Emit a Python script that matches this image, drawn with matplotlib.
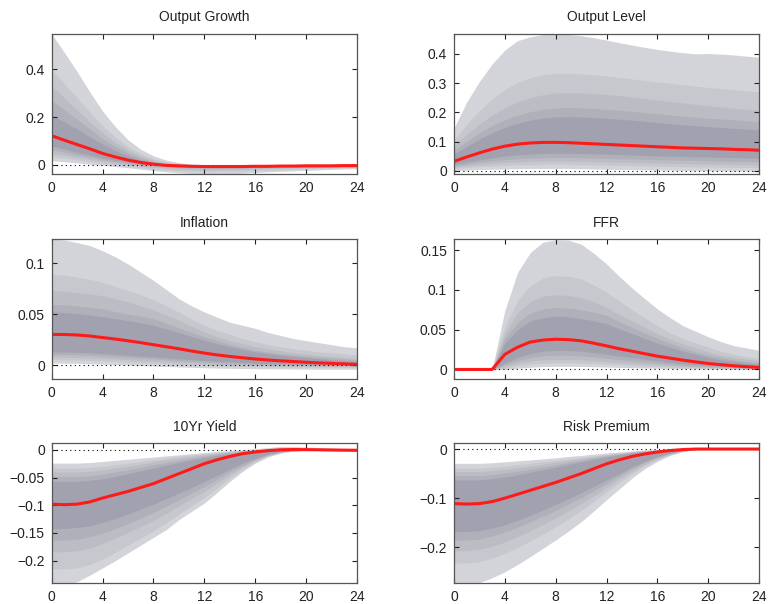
import matplotlib
matplotlib.use("Agg")
import matplotlib.pyplot as plt
from matplotlib.ticker import FuncFormatter

plt.rcParams["font.family"] = ["Liberation Sans", "DejaVu Sans"]
plt.rcParams["font.size"] = 10

horizon = list(range(25))

# Output Growth
og_med = [0.122, 0.103, 0.085, 0.067, 0.048, 0.033, 0.020, 0.010, 0.003, -0.002, -0.004, -0.006, -0.007, -0.007, -0.007, -0.007, -0.006, -0.006, -0.005, -0.005, -0.004, -0.004, -0.004, -0.003, -0.003]
og_up = [
    [0.548, 0.47, 0.39, 0.305, 0.225, 0.16, 0.105, 0.065, 0.038, 0.02, 0.009, 0.003, 0.0, -0.001, -0.001, 0.0, 0.0, 0.001, 0.001, 0.002, 0.002, 0.002, 0.002, 0.002, 0.002],
    [0.40, 0.34, 0.28, 0.22, 0.163, 0.115, 0.076, 0.046, 0.025, 0.012, 0.004, 0.0, -0.002, -0.003, -0.003, -0.002, -0.002, -0.001, -0.001, 0.0, 0.0, 0.0, 0.0, 0.0, 0.0],
    [0.33, 0.28, 0.23, 0.18, 0.134, 0.094, 0.062, 0.036, 0.018, 0.007, 0.0, -0.003, -0.004, -0.004, -0.004, -0.004, -0.003, -0.003, -0.002, -0.002, -0.002, -0.001, -0.001, -0.001, -0.001],
    [0.27, 0.23, 0.19, 0.15, 0.11, 0.077, 0.05, 0.028, 0.013, 0.004, -0.002, -0.004, -0.005, -0.005, -0.005, -0.005, -0.004, -0.004, -0.003, -0.003, -0.003, -0.002, -0.002, -0.002, -0.002],
    [0.21, 0.18, 0.15, 0.118, 0.087, 0.06, 0.038, 0.021, 0.009, 0.001, -0.003, -0.005, -0.006, -0.006, -0.006, -0.006, -0.005, -0.005, -0.004, -0.004, -0.003, -0.003, -0.003, -0.003, -0.002],
]
og_lo = [
    [0.018, 0.013, 0.008, 0.003, -0.002, -0.007, -0.012, -0.018, -0.024, -0.029, -0.033, -0.036, -0.038, -0.038, -0.037, -0.035, -0.032, -0.029, -0.027, -0.025, -0.023, -0.021, -0.019, -0.017, -0.016],
    [0.035, 0.028, 0.021, 0.014, 0.007, 0.001, -0.005, -0.011, -0.016, -0.021, -0.024, -0.026, -0.027, -0.027, -0.026, -0.025, -0.023, -0.021, -0.019, -0.018, -0.016, -0.015, -0.014, -0.013, -0.012],
    [0.05, 0.041, 0.032, 0.023, 0.015, 0.007, 0.001, -0.005, -0.010, -0.014, -0.017, -0.019, -0.020, -0.020, -0.019, -0.018, -0.017, -0.015, -0.014, -0.013, -0.012, -0.011, -0.010, -0.010, -0.009],
    [0.065, 0.053, 0.042, 0.032, 0.022, 0.013, 0.006, 0.0, -0.005, -0.009, -0.012, -0.013, -0.014, -0.014, -0.014, -0.013, -0.012, -0.011, -0.010, -0.009, -0.009, -0.008, -0.007, -0.007, -0.007],
    [0.08, 0.066, 0.053, 0.041, 0.029, 0.019, 0.011, 0.004, -0.001, -0.005, -0.008, -0.009, -0.010, -0.010, -0.010, -0.009, -0.009, -0.008, -0.007, -0.007, -0.006, -0.006, -0.005, -0.005, -0.005],
]

# Output Level
ol_med = [0.032, 0.047, 0.061, 0.074, 0.084, 0.091, 0.095, 0.097, 0.097, 0.096, 0.094, 0.092, 0.09, 0.088, 0.086, 0.084, 0.082, 0.08, 0.078, 0.077, 0.076, 0.075, 0.073, 0.072, 0.07]
ol_up = [
    [0.145, 0.235, 0.305, 0.365, 0.413, 0.445, 0.458, 0.466, 0.468, 0.466, 0.462, 0.455, 0.447, 0.438, 0.43, 0.422, 0.415, 0.409, 0.404, 0.4, 0.401, 0.399, 0.396, 0.392, 0.388],
    [0.105, 0.16, 0.205, 0.245, 0.278, 0.302, 0.318, 0.328, 0.333, 0.333, 0.331, 0.328, 0.324, 0.319, 0.314, 0.309, 0.304, 0.299, 0.294, 0.289, 0.285, 0.281, 0.277, 0.273, 0.27],
    [0.085, 0.125, 0.16, 0.19, 0.215, 0.235, 0.25, 0.26, 0.266, 0.267, 0.266, 0.264, 0.261, 0.257, 0.252, 0.247, 0.242, 0.237, 0.232, 0.227, 0.222, 0.218, 0.214, 0.21, 0.206],
    [0.07, 0.1, 0.13, 0.155, 0.175, 0.19, 0.202, 0.21, 0.215, 0.216, 0.215, 0.213, 0.21, 0.207, 0.203, 0.199, 0.195, 0.191, 0.187, 0.183, 0.18, 0.177, 0.174, 0.171, 0.168],
    [0.058, 0.083, 0.108, 0.13, 0.148, 0.162, 0.173, 0.18, 0.184, 0.185, 0.184, 0.182, 0.179, 0.176, 0.173, 0.169, 0.165, 0.161, 0.157, 0.154, 0.151, 0.148, 0.145, 0.142, 0.14],
]
ol_lo = [
    [0.0, 0.002, 0.004, 0.005, 0.006, 0.007, 0.008, 0.008, 0.008, 0.008, 0.007, 0.006, 0.005, 0.004, 0.004, 0.003, 0.002, 0.002, 0.001, 0.001, 0.0, 0.0, -0.001, -0.001, -0.002],
    [0.007, 0.011, 0.014, 0.016, 0.018, 0.02, 0.021, 0.022, 0.022, 0.022, 0.021, 0.02, 0.019, 0.018, 0.017, 0.016, 0.016, 0.015, 0.014, 0.013, 0.013, 0.012, 0.011, 0.011, 0.01],
    [0.012, 0.017, 0.021, 0.025, 0.028, 0.03, 0.032, 0.033, 0.033, 0.033, 0.032, 0.031, 0.03, 0.029, 0.028, 0.027, 0.026, 0.025, 0.025, 0.024, 0.023, 0.022, 0.022, 0.021, 0.02],
    [0.017, 0.023, 0.029, 0.034, 0.038, 0.041, 0.043, 0.044, 0.045, 0.045, 0.044, 0.043, 0.042, 0.041, 0.04, 0.039, 0.038, 0.037, 0.036, 0.035, 0.034, 0.033, 0.032, 0.032, 0.031],
    [0.022, 0.03, 0.037, 0.044, 0.05, 0.054, 0.057, 0.059, 0.06, 0.06, 0.059, 0.058, 0.057, 0.055, 0.054, 0.052, 0.051, 0.05, 0.049, 0.048, 0.047, 0.046, 0.045, 0.044, 0.043],
]

# Inflation
inf_med = [0.030, 0.030, 0.0295, 0.0285, 0.027, 0.0255, 0.0238, 0.022, 0.020, 0.018, 0.016, 0.0138, 0.0118, 0.010, 0.0085, 0.0072, 0.006, 0.005, 0.0042, 0.0035, 0.0028, 0.0022, 0.0017, 0.0012, 0.0008]
inf_up = [
    [0.1235, 0.1225, 0.12, 0.117, 0.112, 0.106, 0.099, 0.091, 0.083, 0.074, 0.065, 0.058, 0.052, 0.047, 0.042, 0.039, 0.036, 0.032, 0.029, 0.026, 0.024, 0.022, 0.020, 0.018, 0.017],
    [0.0887, 0.088, 0.086, 0.084, 0.081, 0.077, 0.073, 0.069, 0.064, 0.058, 0.052, 0.045, 0.039, 0.034, 0.030, 0.026, 0.023, 0.020, 0.018, 0.016, 0.0146, 0.013, 0.012, 0.011, 0.0097],
    [0.073, 0.0725, 0.071, 0.0695, 0.068, 0.065, 0.062, 0.058, 0.054, 0.049, 0.044, 0.038, 0.0325, 0.028, 0.024, 0.021, 0.018, 0.016, 0.014, 0.012, 0.0107, 0.0095, 0.0085, 0.0075, 0.0065],
    [0.0595, 0.059, 0.058, 0.0565, 0.055, 0.0525, 0.05, 0.048, 0.0455, 0.041, 0.0365, 0.032, 0.0276, 0.024, 0.0205, 0.0175, 0.0146, 0.0128, 0.011, 0.0098, 0.0088, 0.0078, 0.0068, 0.0059, 0.005],
    [0.052, 0.0515, 0.0505, 0.049, 0.0475, 0.0455, 0.0435, 0.0415, 0.039, 0.0355, 0.0318, 0.028, 0.0244, 0.021, 0.018, 0.0155, 0.013, 0.0113, 0.0098, 0.0085, 0.0073, 0.0062, 0.0052, 0.0044, 0.0036],
]
inf_lo = [
    [0.002, 0.0019, 0.0017, 0.0014, 0.001, 0.0006, 0.0001, -0.0004, -0.0009, -0.0014, -0.0018, -0.0022, -0.0026, -0.0029, -0.0031, -0.0033, -0.0035, -0.0036, -0.0037, -0.0038, -0.0039, -0.004, -0.004, -0.0041, -0.0041],
    [0.0055, 0.0053, 0.005, 0.0046, 0.0041, 0.0036, 0.003, 0.0024, 0.0018, 0.0012, 0.0007, 0.0002, -0.0002, -0.0006, -0.0009, -0.0012, -0.0014, -0.0016, -0.0018, -0.0019, -0.002, -0.0021, -0.0022, -0.0022, -0.0023],
    [0.008, 0.0078, 0.0075, 0.0071, 0.0066, 0.006, 0.0053, 0.0046, 0.0039, 0.0032, 0.0025, 0.0019, 0.0013, 0.0008, 0.0004, 0.0, -0.0003, -0.0006, -0.0008, -0.001, -0.0011, -0.0012, -0.0013, -0.0014, -0.0014],
    [0.0105, 0.0103, 0.01, 0.0096, 0.009, 0.0083, 0.0076, 0.0068, 0.006, 0.0052, 0.0044, 0.0037, 0.003, 0.0024, 0.0018, 0.0013, 0.0009, 0.0006, 0.0003, 0.0001, -0.0001, -0.0003, -0.0004, -0.0005, -0.0006],
    [0.013, 0.0128, 0.0125, 0.012, 0.0113, 0.0105, 0.0097, 0.0088, 0.008, 0.0071, 0.0062, 0.0053, 0.0045, 0.0038, 0.0032, 0.0026, 0.0021, 0.0017, 0.0013, 0.001, 0.0007, 0.0004, 0.0002, 0.0, -0.0001],
]

# FFR
ffr_med = [0, 0, 0, 0, 0.019, 0.028, 0.0345, 0.037, 0.038, 0.0375, 0.036, 0.033, 0.0296, 0.026, 0.023, 0.0198, 0.0167, 0.0142, 0.0117, 0.0095, 0.0075, 0.006, 0.0046, 0.0035, 0.0025]
ffr_up = [
    [0, 0, 0, 0, 0.074, 0.122, 0.147, 0.16, 0.163, 0.1625, 0.1575, 0.146, 0.1325, 0.117, 0.1025, 0.089, 0.076, 0.065, 0.055, 0.048, 0.041, 0.035, 0.030, 0.027, 0.024],
    [0, 0, 0, 0, 0.053, 0.087, 0.105, 0.115, 0.118, 0.117, 0.114, 0.106, 0.097, 0.086, 0.075, 0.065, 0.055, 0.046, 0.039, 0.033, 0.028, 0.023, 0.019, 0.016, 0.014],
    [0, 0, 0, 0, 0.045, 0.071, 0.085, 0.092, 0.094, 0.093, 0.09, 0.085, 0.078, 0.069, 0.061, 0.053, 0.045, 0.038, 0.032, 0.027, 0.022, 0.018, 0.015, 0.013, 0.011],
    [0, 0, 0, 0, 0.039, 0.059, 0.071, 0.076, 0.078, 0.077, 0.075, 0.072, 0.068, 0.06, 0.053, 0.046, 0.039, 0.033, 0.027, 0.022, 0.018, 0.015, 0.012, 0.01, 0.0083],
    [0, 0, 0, 0, 0.033, 0.05, 0.061, 0.065, 0.067, 0.066, 0.064, 0.061, 0.0575, 0.051, 0.045, 0.039, 0.033, 0.028, 0.023, 0.019, 0.015, 0.012, 0.01, 0.008, 0.0067],
]
ffr_lo = [
    [0, 0, 0, 0, 0.0, 0.0015, 0.0028, 0.0037, 0.004, 0.004, 0.0038, 0.0034, 0.003, 0.0026, 0.0022, 0.0018, 0.0015, 0.0012, 0.001, 0.0008, 0.0006, 0.0004, 0.0003, 0.0002, 0.0001],
    [0, 0, 0, 0, 0.002, 0.0045, 0.0065, 0.0078, 0.0083, 0.0083, 0.008, 0.0073, 0.0065, 0.0057, 0.0049, 0.0042, 0.0035, 0.0029, 0.0024, 0.0019, 0.0015, 0.0012, 0.0009, 0.0007, 0.0005],
    [0, 0, 0, 0, 0.004, 0.0075, 0.0105, 0.012, 0.0125, 0.0125, 0.012, 0.011, 0.0098, 0.0087, 0.0076, 0.0065, 0.0055, 0.0046, 0.0038, 0.0031, 0.0025, 0.002, 0.0016, 0.0012, 0.0009],
    [0, 0, 0, 0, 0.006, 0.011, 0.015, 0.017, 0.018, 0.018, 0.017, 0.016, 0.014, 0.0125, 0.011, 0.0095, 0.008, 0.0066, 0.0054, 0.0044, 0.0036, 0.0029, 0.0023, 0.0018, 0.0014],
    [0, 0, 0, 0, 0.008, 0.015, 0.02, 0.023, 0.024, 0.024, 0.023, 0.021, 0.019, 0.017, 0.015, 0.013, 0.011, 0.009, 0.0075, 0.006, 0.005, 0.004, 0.003, 0.0025, 0.002],
]

# 10Yr Yield
ty_med = [-0.098, -0.099, -0.098, -0.094, -0.087, -0.081, -0.075, -0.068, -0.061, -0.052, -0.043, -0.034, -0.025, -0.018, -0.012, -0.007, -0.004, -0.0015, 0.0, 0.0005, 0.0003, 0.0, -0.0003, -0.0006, -0.0008]
ty_up = [
    [-0.024, -0.024, -0.024, -0.023, -0.021, -0.019, -0.017, -0.015, -0.013, -0.011, -0.009, -0.007, -0.005, -0.003, -0.0015, 0.0, 0.002, 0.004, 0.006, 0.006, 0.005, 0.004, 0.003, 0.002, 0.002],
    [-0.033, -0.033, -0.033, -0.032, -0.03, -0.027, -0.024, -0.021, -0.018, -0.015, -0.012, -0.009, -0.007, -0.005, -0.003, -0.001, 0.001, 0.002, 0.004, 0.004, 0.003, 0.002, 0.002, 0.001, 0.001],
    [-0.04, -0.04, -0.04, -0.039, -0.036, -0.033, -0.03, -0.026, -0.022, -0.018, -0.015, -0.012, -0.009, -0.006, -0.004, -0.002, 0.0, 0.001, 0.003, 0.003, 0.002, 0.002, 0.001, 0.001, 0.0],
    [-0.048, -0.048, -0.048, -0.047, -0.044, -0.04, -0.036, -0.032, -0.027, -0.023, -0.019, -0.015, -0.011, -0.008, -0.005, -0.003, -0.001, 0.001, 0.002, 0.002, 0.002, 0.001, 0.001, 0.0, 0.0],
    [-0.057, -0.057, -0.057, -0.055, -0.052, -0.048, -0.043, -0.038, -0.033, -0.028, -0.023, -0.018, -0.014, -0.01, -0.007, -0.004, -0.002, 0.0, 0.001, 0.001, 0.001, 0.001, 0.0, 0.0, 0.0],
]
ty_lo = [
    [-0.245, -0.243, -0.238, -0.226, -0.213, -0.2, -0.186, -0.172, -0.158, -0.144, -0.126, -0.111, -0.096, -0.077, -0.057, -0.039, -0.024, -0.013, -0.006, -0.002, -0.001, -0.001, -0.002, -0.002, -0.003],
    [-0.215, -0.215, -0.213, -0.207, -0.197, -0.185, -0.172, -0.159, -0.146, -0.132, -0.116, -0.101, -0.086, -0.069, -0.051, -0.035, -0.021, -0.011, -0.005, -0.002, -0.001, -0.001, -0.001, -0.002, -0.002],
    [-0.184, -0.184, -0.182, -0.177, -0.169, -0.159, -0.149, -0.138, -0.127, -0.115, -0.101, -0.088, -0.075, -0.06, -0.045, -0.031, -0.019, -0.01, -0.004, -0.002, -0.001, -0.001, -0.001, -0.001, -0.002],
    [-0.163, -0.163, -0.161, -0.157, -0.15, -0.142, -0.133, -0.123, -0.113, -0.102, -0.09, -0.078, -0.066, -0.053, -0.04, -0.028, -0.017, -0.009, -0.004, -0.001, 0.0, -0.001, -0.001, -0.001, -0.001],
    [-0.142, -0.142, -0.14, -0.137, -0.131, -0.124, -0.116, -0.107, -0.098, -0.088, -0.078, -0.068, -0.057, -0.046, -0.035, -0.024, -0.015, -0.008, -0.003, -0.001, 0.0, 0.0, -0.001, -0.001, -0.001],
]

# Risk Premium
rp_med = [-0.111, -0.112, -0.111, -0.107, -0.1, -0.092, -0.084, -0.076, -0.068, -0.059, -0.05, -0.04, -0.03, -0.022, -0.015, -0.01, -0.006, -0.003, -0.001, 0.0, 0.0, 0.0, 0.0, 0.0, 0.0]
rp_up = [
    [-0.029, -0.029, -0.029, -0.028, -0.026, -0.024, -0.022, -0.02, -0.018, -0.015, -0.013, -0.01, -0.008, -0.006, -0.004, -0.002, -0.001, 0.0, 0.0, 0.0, 0.0, 0.0, 0.0, 0.0, 0.0],
    [-0.039, -0.039, -0.039, -0.037, -0.035, -0.032, -0.029, -0.026, -0.023, -0.02, -0.017, -0.014, -0.011, -0.008, -0.005, -0.003, -0.002, -0.001, 0.0, 0.0, 0.0, 0.0, 0.0, 0.0, 0.0],
    [-0.046, -0.046, -0.046, -0.044, -0.041, -0.038, -0.035, -0.031, -0.027, -0.023, -0.019, -0.016, -0.012, -0.009, -0.006, -0.004, -0.002, -0.001, 0.0, 0.0, 0.0, 0.0, 0.0, 0.0, 0.0],
    [-0.054, -0.054, -0.054, -0.052, -0.049, -0.045, -0.041, -0.036, -0.032, -0.027, -0.023, -0.018, -0.014, -0.01, -0.007, -0.004, -0.002, -0.001, 0.0, 0.0, 0.0, 0.0, 0.0, 0.0, 0.0],
    [-0.063, -0.063, -0.063, -0.06, -0.057, -0.052, -0.047, -0.042, -0.037, -0.031, -0.026, -0.021, -0.016, -0.012, -0.008, -0.005, -0.003, -0.001, 0.0, 0.0, 0.0, 0.0, 0.0, 0.0, 0.0],
]
rp_lo = [
    [-0.28, -0.278, -0.272, -0.262, -0.25, -0.235, -0.219, -0.202, -0.185, -0.167, -0.148, -0.126, -0.103, -0.081, -0.059, -0.04, -0.025, -0.013, -0.005, -0.001, 0.0, 0.0, 0.0, 0.0, 0.0],
    [-0.232, -0.232, -0.229, -0.222, -0.212, -0.2, -0.187, -0.173, -0.158, -0.142, -0.125, -0.106, -0.087, -0.068, -0.05, -0.034, -0.021, -0.011, -0.004, -0.001, 0.0, 0.0, 0.0, 0.0, 0.0],
    [-0.207, -0.207, -0.204, -0.198, -0.189, -0.178, -0.166, -0.153, -0.14, -0.126, -0.111, -0.095, -0.078, -0.061, -0.045, -0.031, -0.019, -0.01, -0.004, -0.001, 0.0, 0.0, 0.0, 0.0, 0.0],
    [-0.185, -0.185, -0.183, -0.177, -0.169, -0.159, -0.148, -0.137, -0.125, -0.112, -0.099, -0.085, -0.07, -0.055, -0.04, -0.027, -0.017, -0.009, -0.003, -0.001, 0.0, 0.0, 0.0, 0.0, 0.0],
    [-0.168, -0.168, -0.166, -0.161, -0.154, -0.145, -0.135, -0.124, -0.113, -0.101, -0.089, -0.076, -0.063, -0.05, -0.036, -0.025, -0.015, -0.008, -0.003, -0.001, 0.0, 0.0, 0.0, 0.0, 0.0],
]

titles = ["Output Growth", "Output Level", "Inflation", "FFR", "10Yr Yield", "Risk Premium"]
medians = [og_med, ol_med, inf_med, ffr_med, ty_med, rp_med]
uppers = [og_up, ol_up, inf_up, ffr_up, ty_up, rp_up]
lowers = [og_lo, ol_lo, inf_lo, ffr_lo, ty_lo, rp_lo]
ylims = [(-0.038, 0.548), (-0.011, 0.468), (-0.0136, 0.1235), (-0.012, 0.164), (-0.2406, 0.012), (-0.273, 0.012)]
yticks = [
    [0, 0.2, 0.4],
    [0, 0.1, 0.2, 0.3, 0.4],
    [0, 0.05, 0.1],
    [0, 0.05, 0.1, 0.15],
    [-0.2, -0.15, -0.1, -0.05, 0],
    [-0.2, -0.1, 0],
]
xticks = [0, 4, 8, 12, 16, 20, 24]

band_colors = ["#d3d4d9", "#c7c8ce", "#bcbcc4", "#b0b0ba", "#a2a1af"]

# axes boxes in figure fractions
lefts = [0.067, 0.588]
bottoms = [0.712, 0.3725, 0.0345]
w, h = 0.3955, 0.2318


def fmt(v, pos):
    return ("%g" % v).replace("-", "\u2212")


fig = plt.figure(figsize=(7.72, 6.04), dpi=100)

for i in range(6):
    r, c = divmod(i, 2)
    ax = fig.add_axes([lefts[c], bottoms[r], w, h])
    for k in range(5):
        ax.fill_between(horizon, lowers[i][k], uppers[i][k], color=band_colors[k], linewidth=0)
    ax.plot([0, 24], [0, 0], color="black", linestyle=(0, (1, 3)), linewidth=0.8)
    ax.plot(horizon, medians[i], color="#ff1a1a", linewidth=2.2)
    ax.set_xlim(0, 24)
    ax.set_ylim(*ylims[i])
    ax.set_xticks(xticks)
    ax.set_yticks(yticks[i])
    ax.yaxis.set_major_formatter(FuncFormatter(fmt))
    ax.tick_params(direction="in", length=3.5, width=0.8, top=True, right=True,
                   labelsize=10, colors="#222222", pad=5)
    for s in ax.spines.values():
        s.set_color("#555555")
        s.set_linewidth(0.9)
    ax.set_title(titles[i], fontsize=10, pad=9, color="#222222")

fig.savefig("out.png", dpi=100)
